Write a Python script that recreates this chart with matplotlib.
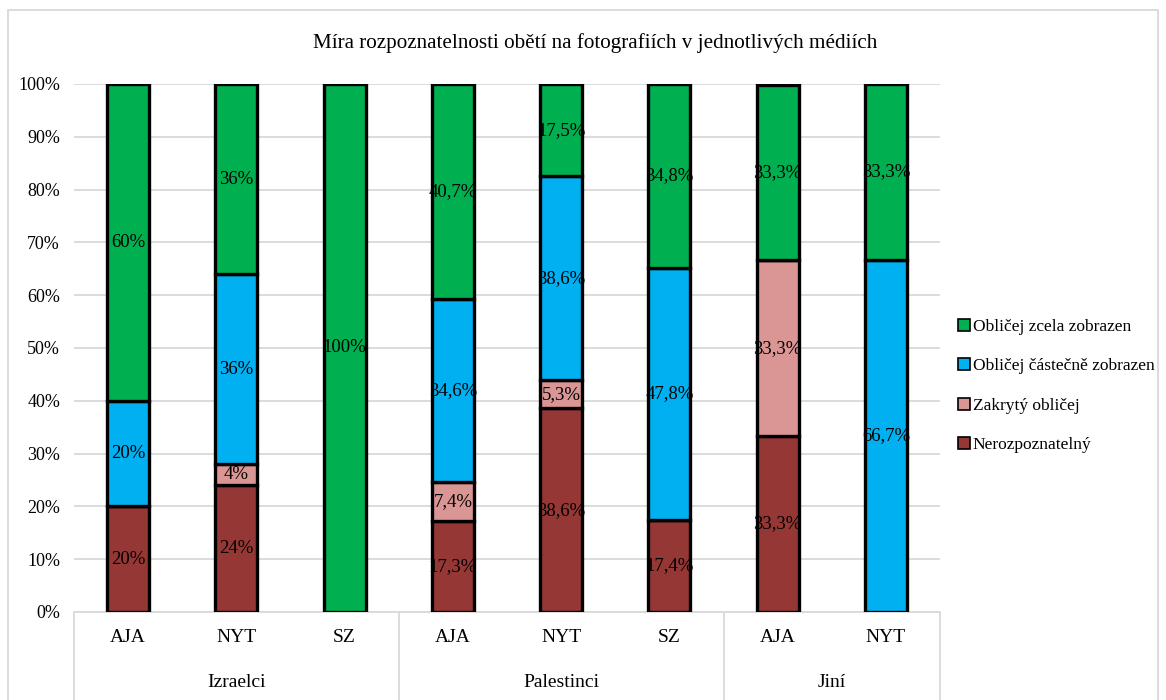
import numpy as np
import matplotlib.pyplot as plt
from matplotlib.patches import Rectangle
from matplotlib.lines import Line2D

plt.rcParams['font.family'] = ['Liberation Serif', 'DejaVu Serif']

media = ['AJA', 'NYT', 'SZ', 'AJA', 'NYT', 'SZ', 'AJA', 'NYT']
groups = ['Izraelci', 'Palestinci', 'Jiní']
group_sizes = [3, 3, 2]

nerozpoznatelny = [20, 24, 0, 17.3, 38.6, 17.4, 33.3, 0]
zakryty = [0, 4, 0, 7.4, 5.3, 0, 33.3, 0]
castecne = [20, 36, 0, 34.6, 38.6, 47.8, 0, 66.7]
zcela = [60, 36, 100, 40.7, 17.5, 34.8, 33.3, 33.3]

series = [
    ('Nerozpoznatelný', nerozpoznatelny, '#953735'),
    ('Zakrytý obličej', zakryty, '#DA9694'),
    ('Obličej částečně zobrazen', castecne, '#00B0F0'),
    ('Obličej zcela zobrazen', zcela, '#00B050'),
]

fig = plt.figure(figsize=(11.66, 7.0), dpi=100)
W, H = 1166, 700
ax = fig.add_axes([74 / W, 1 - 612 / H, (940 - 74) / W, (612 - 84) / H])

x = np.arange(len(media))
bottom = np.zeros(len(media))
handles = []
for name, vals, col in series:
    vals = np.array(vals, dtype=float)
    ax.bar(x, vals, 0.39, bottom=bottom, color=col, edgecolor='black',
           linewidth=2.4, zorder=3)
    for xi, b, v in zip(x, bottom, vals):
        if v > 0:
            txt = ('%g' % v).replace('.', ',') + '%'
            ax.text(xi, b + v / 2, txt, ha='center', va='center',
                    fontsize=13.5, zorder=4)
    bottom += vals
    handles.append(Line2D([], [], marker='s', linestyle='none',
                          markerfacecolor=col, markeredgecolor='black',
                          markersize=8, markeredgewidth=1.2, label=name))

ax.set_xlim(-0.5, len(media) - 0.5)
ax.set_ylim(0, 100)
ax.set_yticks(np.arange(0, 101, 10))
ax.set_yticklabels(['%d%%' % v for v in range(0, 101, 10)], fontsize=13)
ax.yaxis.grid(True, color='#d9d9d9', linewidth=1.3, zorder=0)
ax.tick_params(axis='y', length=0, pad=10)
ax.tick_params(axis='x', length=0, labelbottom=False)
for s in ['top', 'right', 'left']:
    ax.spines[s].set_visible(False)
ax.spines['bottom'].set_color('#d9d9d9')
ax.spines['bottom'].set_linewidth(1.3)

# category labels and group separators
trans = ax.get_xaxis_transform()
for xi, m in zip(x, media):
    ax.text(xi, -0.048, m, transform=trans, ha='center', va='center', fontsize=14)
edges = np.concatenate([[0], np.cumsum(group_sizes)]) - 0.5
for e in edges:
    ax.add_line(Line2D([e, e], [0, -0.17], transform=trans, color='#d9d9d9',
                       linewidth=1.3, clip_on=False))
for g, a, b in zip(groups, edges[:-1], edges[1:]):
    ax.text((a + b) / 2, -0.133, g, transform=trans, ha='center', va='center',
            fontsize=14)

fig.text(595 / W, 1 - 43 / H,
         'Míra rozpoznatelnosti obětí na fotografiích v jednotlivých médiích',
         ha='center', va='center', fontsize=15.2)

fig.legend(handles=handles[::-1], loc='center left',
           bbox_to_anchor=(938 / W, 1 - 386 / H), frameon=False,
           fontsize=12.5, handletextpad=-0.1, labelspacing=1.35,
           handlelength=1.2)

fig.patches.append(Rectangle((8 / W, -0.01), (1158 - 8) / W, 1 - 10 / H + 0.01,
                             transform=fig.transFigure, fill=False,
                             edgecolor='#d9d9d9', linewidth=1.3))

fig.savefig('out.png', dpi=100)
